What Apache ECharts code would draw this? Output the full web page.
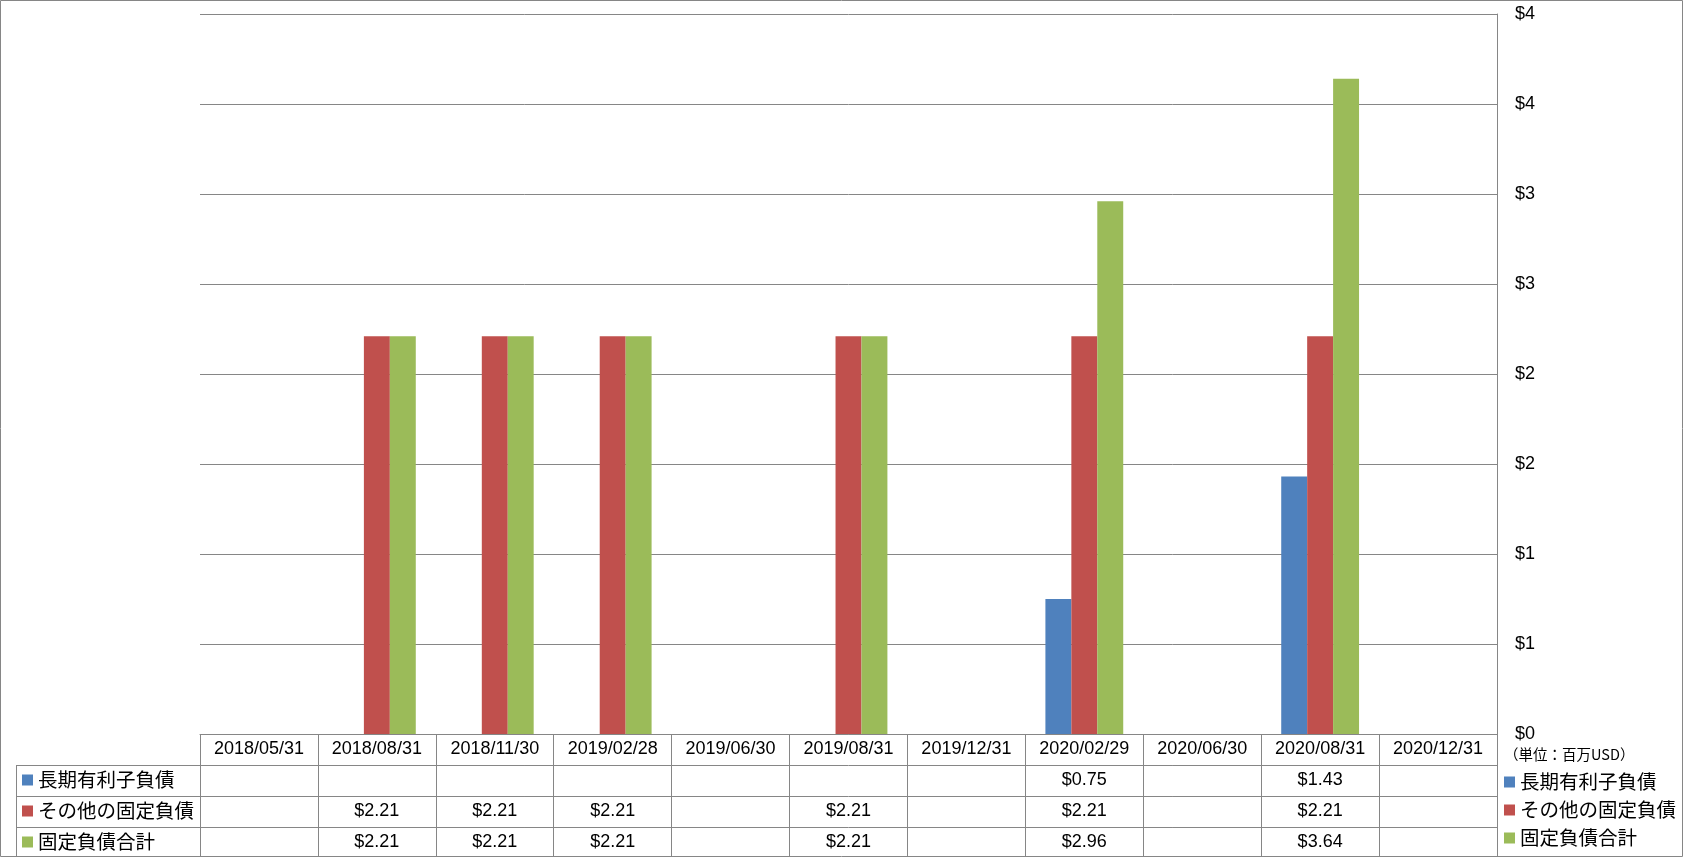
<!DOCTYPE html>
<html>
<head>
<meta charset="utf-8">
<script src="https://cdn.jsdelivr.net/npm/echarts@6/dist/echarts.min.js"></script>
<style>html,body{margin:0;padding:0;background:#fff}#c{width:1685px;height:858px}</style>
</head>
<body>
<div id="c"></div>
<script>
const categories = ['2018/05/31','2018/08/31','2018/11/30','2019/02/28','2019/06/30','2019/08/31','2019/12/31','2020/02/29','2020/06/30','2020/08/31','2020/12/31'];
const seriesNames = ['長期有利子負債','その他の固定負債','固定負債合計'];
const longDebt   = [null,null,null,null,null,null,null,0.75,null,1.43,null];
const otherFixed = [null,2.21,2.21,2.21,null,2.21,null,2.21,null,2.21,null];
const totalFixed = [null,2.21,2.21,2.21,null,2.21,null,2.96,null,3.64,null];
const colors = ['#4F81BD','#C0504D','#9BBB59'];
const unitLabel = '（単位：百万USD）';

const seriesData = [longDebt, otherFixed, totalFixed];
const GRID = '#868686';
const NUMFONT = 'Liberation Sans, Arial, sans-serif';
const CJKFONT = 'Noto Sans CJK JP, sans-serif';
const ROW = 31;
const gridLeft = 200, gridRight = 188, gridTop = 14, gridBottom = 124;
const axisY = 858 - gridBottom;

function fmt(v){ return (v === null || v === undefined) ? '' : '$' + v.toFixed(2); }

const xAxes = [{
  type: 'category', data: categories, position: 'bottom', gridIndex: 0,
  axisLine: {show: true, lineStyle: {color: GRID, width: 1}},
  axisTick: {show: true, interval: 0, length: 122, lineStyle: {color: GRID, width: 1}},
  axisLabel: {interval: 0, margin: ROW/2, verticalAlign: 'middle', fontFamily: NUMFONT, fontSize: 18, color: '#000'},
  splitLine: {show: false}
}];
seriesData.forEach((arr, i) => {
  xAxes.push({
    type: 'category', data: categories, position: 'bottom', gridIndex: 0, offset: ROW*(i+1),
    axisLine: {show: true, lineStyle: {color: GRID, width: 1}},
    axisTick: {show: false},
    axisLabel: {interval: 0, margin: ROW/2, verticalAlign: 'middle', fontFamily: NUMFONT, fontSize: 18, color: '#000',
      formatter: (val, idx) => fmt(arr[idx])},
    splitLine: {show: false}
  });
});

const tableLines = [];
for (let i = 1; i <= 3; i++) {
  const y = axisY + ROW*i + 0.5;
  tableLines.push({type: 'line', shape: {x1: 16, y1: y, x2: gridLeft, y2: y}, style: {stroke: GRID, lineWidth: 1}, silent: true});
}
tableLines.push({type: 'line', shape: {x1: 16.5, y1: axisY + ROW + 0.5, x2: 16.5, y2: 857}, style: {stroke: GRID, lineWidth: 1}, silent: true});
tableLines.push({type: 'rect', shape: {x: 0.5, y: 0.5, width: 1682, height: 856}, style: {fill: 'none', stroke: GRID, lineWidth: 1}, silent: true});
tableLines.push({type: 'text', x: 1504, y: 754, style: {text: unitLabel, font: '14.5px ' + CJKFONT, fill: '#000', verticalAlign: 'middle'}, silent: true});

const chart = echarts.init(document.getElementById('c'), null, {renderer: 'canvas'});
chart.setOption({
  animation: false,
  color: colors,
  grid: {left: gridLeft, right: gridRight, top: gridTop, bottom: gridBottom, containLabel: false},
  xAxis: xAxes,
  yAxis: {
    type: 'value', position: 'right', min: 0, max: 4, interval: 0.5,
    axisLine: {show: true, lineStyle: {color: GRID, width: 1}},
    axisTick: {show: false},
    splitLine: {show: true, lineStyle: {color: GRID, width: 1}},
    axisLabel: {margin: 18, fontFamily: NUMFONT, fontSize: 18, color: '#000', align: 'left',
      formatter: v => '$' + Math.round(v)}
  },
  legend: [
    {data: seriesNames, orient: 'vertical', left: 22, top: axisY + ROW + 5, padding: 0,
     itemWidth: 11, itemHeight: 11, itemGap: 11, icon: 'rect',
     textStyle: {fontFamily: CJKFONT, fontSize: 19.5, lineHeight: 20, color: '#000'}},
    {data: seriesNames, orient: 'vertical', left: 1504, top: 772, padding: 0,
     itemWidth: 11, itemHeight: 11, itemGap: 8, icon: 'rect',
     textStyle: {fontFamily: CJKFONT, fontSize: 19.5, lineHeight: 20, color: '#000'}}
  ],
  graphic: tableLines,
  series: seriesData.map((arr, i) => ({
    name: seriesNames[i], type: 'bar', data: arr, xAxisIndex: 0, yAxisIndex: 0,
    barGap: '0%', barCategoryGap: '34%',
    itemStyle: {color: colors[i]}
  }))
});
</script>
</body>
</html>
